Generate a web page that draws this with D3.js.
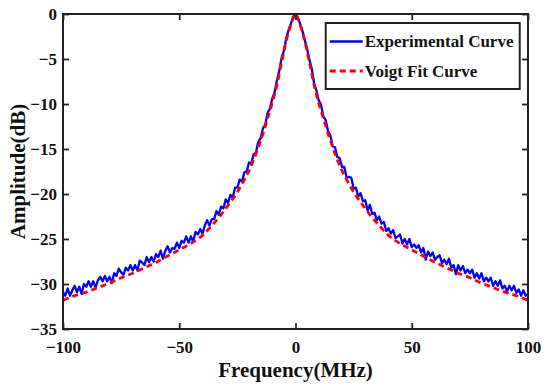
<!DOCTYPE html>
<html>
<head>
<meta charset="utf-8">
<script src="https://cdn.jsdelivr.net/npm/d3@7"></script>
<style>
  html, body { margin: 0; padding: 0; background: #fff; }
</style>
</head>
<body>
<div id="chart"></div>
<script>
// Frequency grid of the measured trace (MHz), one sample per MHz
const expStart = -100;
const expStep = 1;
const expAmp = [
  -30.9, -31.3, -30.5, -31.3, -30.7, -30.2, -30.9, -30.3, -31.1, -30.0,
  -30.3, -29.7, -30.3, -29.7, -30.4, -29.6, -29.2, -29.7, -29.1, -29.7,
  -29.2, -29.9, -28.8, -29.1, -28.3, -28.7, -29.0, -28.2, -28.5, -27.9,
  -28.5, -27.9, -28.5, -27.4, -27.6, -27.9, -27.0, -27.6, -27.0, -27.5,
  -26.7, -27.0, -26.3, -27.2, -26.3, -25.8, -26.5, -26.0, -26.1, -25.4,
  -26.0, -25.2, -25.4, -24.7, -25.4, -24.7, -25.3, -24.2, -24.5, -23.9,
  -24.4, -23.5, -22.9, -23.5, -22.8, -22.8, -21.9, -22.3, -21.4, -21.6,
  -20.6, -21.0, -20.1, -20.4, -19.3, -19.3, -18.4, -18.6, -17.6, -17.5,
  -16.5, -16.6, -15.6, -15.4, -14.2, -13.8, -12.7, -12.3, -11.0, -10.5,
  -9.4, -8.7, -7.4, -6.3, -4.9, -4.1, -2.7, -1.8, -1.1, -0.3,
  -0.1,
  -0.4, -1.1, -1.9, -2.9, -3.9, -5.1, -6.1, -7.7, -8.5, -9.6,
  -10.1, -11.4, -11.8, -13.0, -13.5, -14.7, -14.8, -15.9, -16.0, -17.0,
  -17.0, -18.2, -18.1, -18.2, -19.4, -19.3, -20.3, -19.9, -20.8, -20.7,
  -21.8, -21.2, -22.2, -22.1, -22.9, -22.5, -23.3, -23.1, -24.1, -23.8,
  -24.4, -24.0, -24.9, -24.7, -24.5, -25.5, -25.0, -25.6, -25.0, -25.9,
  -25.6, -26.0, -25.7, -26.5, -26.0, -27.3, -26.4, -26.9, -26.5, -27.3,
  -27.0, -26.8, -27.7, -27.3, -27.8, -27.2, -28.2, -27.9, -28.9, -27.9,
  -28.5, -28.0, -28.8, -28.4, -28.8, -28.4, -29.3, -28.8, -29.4, -28.8,
  -29.7, -29.3, -29.7, -29.3, -30.2, -29.7, -30.2, -29.6, -30.5, -30.2,
  -30.8, -30.2, -30.7, -30.2, -31.0, -30.6, -31.3, -30.7, -31.3, -31.1
];

// Voigt fit curve
const fitFreq = [-100, -95, -90, -85, -80, -75, -70, -65, -60, -55, -50, -45, -40, -36, -32, -28, -25, -22, -20, -18,
  -16, -14, -12, -10, -8, -6, -4, -2, -1, 0, 1, 2, 4, 6, 8, 10, 12, 14, 16, 18,
  20, 22, 25, 28, 32, 36, 40, 45, 50, 55, 60, 65, 70, 75, 80, 85, 90, 95, 100];
const fitAmp = [-31.8, -31.3, -30.9, -30.4, -29.9, -29.3, -28.8, -28.2, -27.6, -26.9, -26.2, -25.5, -24.6, -23.5, -22.3, -20.9, -19.8, -18.4, -17.4, -16.2,
  -14.8, -13.3, -11.6, -9.9, -7.9, -5.4, -3.0, -1.2, -0.5, 0, -0.5, -1.2, -3.0, -5.4, -7.9, -9.9, -11.6, -13.3, -14.8, -16.2,
  -17.4, -18.4, -19.8, -20.9, -22.3, -23.5, -24.6, -25.5, -26.2, -26.9, -27.6, -28.2, -28.8, -29.3, -29.9, -30.4, -30.9, -31.3, -31.8];

const xTicks = [-100, -50, 0, 50, 100];
const yTicks = [0, -5, -10, -15, -20, -25, -30, -35];
const legendLabels = ['Experimental Curve', 'Voigt Fit Curve'];

const FONT = "'Liberation Serif', 'Times New Roman', Times, 'DejaVu Serif', serif";

const W = 550, H = 391;
const margin = { top: 14, right: 22, bottom: 62, left: 63 };
const width = W - margin.left - margin.right;
const height = H - margin.top - margin.bottom;

const svg = d3.select('#chart').append('svg')
  .attr('width', W)
  .attr('height', H)
  .attr('font-family', FONT)
  .attr('font-weight', 'bold');

const g = svg.append('g')
  .attr('transform', `translate(${margin.left},${margin.top})`);

const x = d3.scaleLinear().domain([-100, 100]).range([0, width]);
const y = d3.scaleLinear().domain([-35, 0]).range([height, 0]);

g.append('defs').append('clipPath').attr('id', 'plot-clip')
  .append('rect').attr('width', width).attr('height', height);

const expData = expAmp.map((a, i) => ({ f: expStart + i * expStep, a }));
const fitData = fitFreq.map((f, i) => ({ f, a: fitAmp[i] }));

const line = d3.line().x(d => x(d.f)).y(d => y(d.a));

const plot = g.append('g').attr('clip-path', 'url(#plot-clip)');

plot.append('path')
  .datum(expData)
  .attr('fill', 'none')
  .attr('stroke', '#0000ff')
  .attr('stroke-width', 2.3)
  .attr('stroke-linejoin', 'round')
  .attr('d', line);

plot.append('path')
  .datum(fitData)
  .attr('fill', 'none')
  .attr('stroke', '#ff0000')
  .attr('stroke-width', 2.8)
  .attr('stroke-dasharray', '6,4')
  .attr('d', line.curve(d3.curveMonotoneX));

// Axes: ticks inside on all four sides
const axisColor = '#222';
const tickLen = 6;

const xBottom = g.append('g').attr('transform', `translate(0,${height})`)
  .call(d3.axisBottom(x).tickValues(xTicks).tickSizeInner(-tickLen).tickSizeOuter(0).tickPadding(12));
const xTop = g.append('g')
  .call(d3.axisTop(x).tickValues(xTicks).tickSizeInner(-tickLen).tickSizeOuter(0).tickFormat(''));
const yLeft = g.append('g')
  .call(d3.axisLeft(y).tickValues(yTicks).tickSizeInner(-tickLen).tickSizeOuter(0).tickPadding(6));
const yRight = g.append('g').attr('transform', `translate(${width},0)`)
  .call(d3.axisRight(y).tickValues(yTicks).tickSizeInner(-tickLen).tickSizeOuter(0).tickFormat(''));

[xBottom, xTop, yLeft, yRight].forEach(ax => {
  ax.attr('font-family', FONT).attr('font-size', 17).attr('font-weight', 'bold');
  ax.select('.domain').remove();
  ax.selectAll('line').attr('stroke', axisColor).attr('stroke-width', 1.8);
  ax.selectAll('text').attr('fill', '#111');
});

g.append('rect')
  .attr('width', width)
  .attr('height', height)
  .attr('fill', 'none')
  .attr('stroke', axisColor)
  .attr('stroke-width', 2);

// Axis labels
g.append('text')
  .attr('x', width / 2)
  .attr('y', height + 48)
  .attr('text-anchor', 'middle')
  .attr('font-size', 21)
  .attr('fill', '#111')
  .text('Frequency(MHz)');

g.append('text')
  .attr('transform', 'rotate(-90)')
  .attr('x', -height / 2)
  .attr('y', -38)
  .attr('text-anchor', 'middle')
  .attr('font-size', 21)
  .attr('fill', '#111')
  .text('Amplitude(dB)');

// Legend
const legend = g.append('g').attr('transform', `translate(${x(13)},${9})`);
legend.append('rect')
  .attr('width', 194)
  .attr('height', 66)
  .attr('fill', '#fff')
  .attr('stroke', axisColor)
  .attr('stroke-width', 2);

const legendStyles = [
  { color: '#0000ff', width: 2.3, dash: null },
  { color: '#ff0000', width: 2.8, dash: '6,4' }
];
legendLabels.forEach((label, i) => {
  const ly = 18.5 + i * 29.5;
  legend.append('line')
    .attr('x1', 4).attr('x2', 37)
    .attr('y1', ly).attr('y2', ly)
    .attr('stroke', legendStyles[i].color)
    .attr('stroke-width', legendStyles[i].width)
    .attr('stroke-dasharray', legendStyles[i].dash);
  legend.append('text')
    .attr('x', 39)
    .attr('y', ly + 5.5)
    .attr('font-size', 17)
    .attr('fill', '#111')
    .text(label);
});
</script>
</body>
</html>
